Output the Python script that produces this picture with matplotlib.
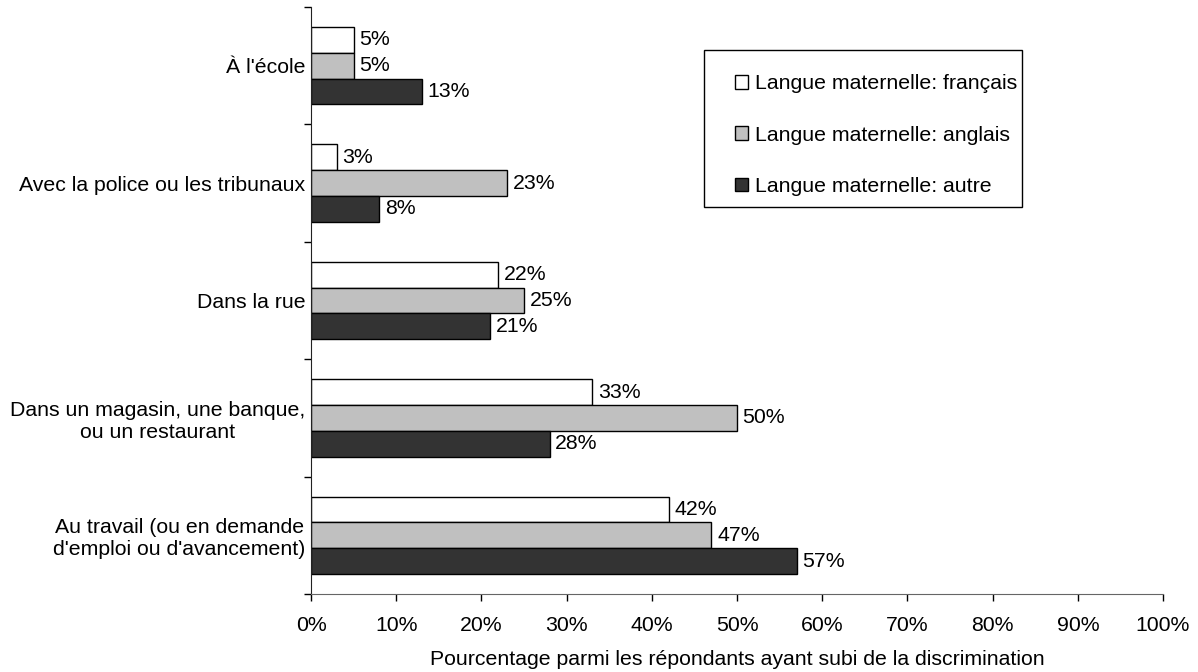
import matplotlib.pyplot as plt
from matplotlib.patches import Rectangle
import numpy as np

categories = ["À l'école",
              "Avec la police ou les tribunaux",
              "Dans la rue",
              "Dans un magasin, une banque,\nou un restaurant",
              "Au travail (ou en demande\nd'emploi ou d'avancement)"]
series = ["Langue maternelle: français",
          "Langue maternelle: anglais",
          "Langue maternelle: autre"]
francais = [5, 3, 22, 33, 42]
anglais = [5, 23, 25, 50, 47]
autre = [13, 8, 21, 28, 57]
xticks = [0, 10, 20, 30, 40, 50, 60, 70, 80, 90, 100]

colors = ['#FFFFFF', '#C0C0C0', '#333333']
values = [francais, anglais, autre]

plt.rcParams['font.family'] = ['Liberation Sans', 'DejaVu Sans']
plt.rcParams['font.size'] = 15.3

fig = plt.figure(figsize=(11.98, 6.72), dpi=100)
ax = fig.add_axes([0.2596, 0.1161, 0.7112, 0.8735])

n = len(categories)
y = np.arange(n)
h = 0.22
for i, (vals, col, lab) in enumerate(zip(values, colors, series)):
    pos = y + (i - 1) * h
    bars = ax.barh(pos, vals, height=h, color=col, edgecolor='black',
                   linewidth=1, label=lab)
    for b, v in zip(bars, vals):
        ax.annotate(f'{v}%', (v, b.get_y() + b.get_height() / 2),
                    xytext=(4, 0), textcoords='offset points',
                    va='center', ha='left')

ax.set_ylim(n - 0.5, -0.5)
ax.set_xlim(0, 100)
ax.set_xticks(xticks)
ax.set_xticklabels([f'{t}%' for t in xticks])
ax.set_yticks(y)
ax.set_yticklabels(categories, multialignment='center')
ax.set_yticks(np.arange(n + 1) - 0.5, minor=True)
ax.tick_params(axis='y', which='major', length=0, pad=4)
ax.tick_params(axis='y', which='minor', length=5, width=1, direction='out')
ax.tick_params(axis='x', length=5, width=1, direction='out', pad=11)

for s in ['top', 'right']:
    ax.spines[s].set_visible(False)
ax.spines['left'].set_color('#222222')
ax.spines['bottom'].set_color('#666666')

ax.set_xlabel('Pourcentage parmi les répondants ayant subi de la discrimination',
              labelpad=11)

# legend box drawn separately so the padding can be uneven
ax.add_patch(Rectangle((0.4613, 0.6593), 0.3732, 0.2674, transform=ax.transAxes,
                       facecolor='white', edgecolor='black', linewidth=1,
                       zorder=4))
leg = ax.legend(loc='upper left', bbox_to_anchor=(0.4977, 0.885),
                frameon=False, handlelength=0.62, handleheight=0.62,
                handletextpad=0.3, labelspacing=1.52, borderpad=0,
                borderaxespad=0)
leg.set_zorder(5)

fig.savefig('out.png', dpi=100)
